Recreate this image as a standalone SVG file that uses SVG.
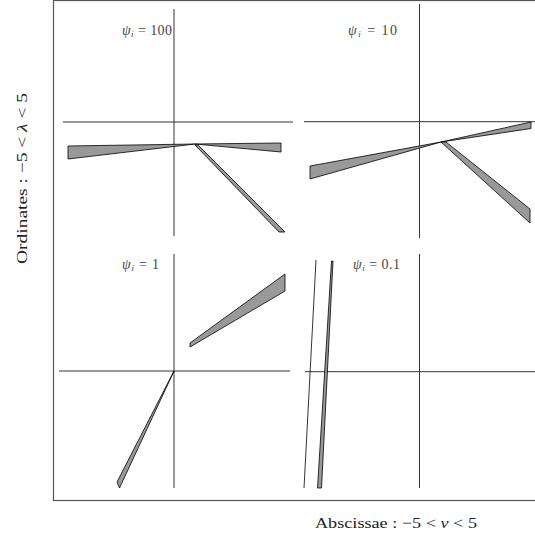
<svg xmlns="http://www.w3.org/2000/svg" width="535" height="539" viewBox="0 0 535 539">
<style>
.ax{stroke:#333;stroke-width:1;fill:none}
.sh{fill:#999;stroke:#000;stroke-width:0.8;stroke-linejoin:miter}
.ln{stroke:#000;stroke-width:0.8;fill:none}
.lb{font-family:'Liberation Serif','DejaVu Serif',serif;font-size:14px;fill:#444}
.al{font-family:'Liberation Serif','DejaVu Serif',serif;font-size:15px;fill:#222}
</style>
<rect x="53.5" y="0.5" width="484" height="500" fill="none" stroke="#555" stroke-width="1.2"/>
<g id="panel1">
<line class="ax" x1="174" y1="9" x2="174" y2="236"/>
<line class="ax" x1="63" y1="122" x2="293" y2="122"/>
<text class="lb" x="122" y="35" textLength="50" lengthAdjust="spacing"><tspan font-style="italic">ψ</tspan><tspan font-size="9" font-style="italic" dy="2">i</tspan><tspan dy="-2"> = 100</tspan></text>
<polygon class="sh" points="68,146 68,159 195,144"/>
<polygon class="sh" points="195,144 281,143 281,152"/>
<polygon class="sh" points="195,145 198,145 285,232 279,232"/>
</g>
<g id="panel2">
<line class="ax" x1="419.5" y1="4" x2="419.5" y2="238"/>
<line class="ax" x1="304" y1="121.7" x2="535" y2="121.7"/>
<text class="lb" x="348" y="35" textLength="49" lengthAdjust="spacing"><tspan font-style="italic">ψ</tspan><tspan font-size="9" font-style="italic" dy="2">i</tspan><tspan dy="-2"> = 10</tspan></text>
<polygon class="sh" points="310,166 310,179 441,142"/>
<polygon class="sh" points="441,142 531,122 531,128.5"/>
<polygon class="sh" points="441,142 446,142 530,209 530,223"/>
</g>
<g id="panel3">
<line class="ax" x1="174" y1="254" x2="174" y2="488"/>
<line class="ax" x1="59" y1="371" x2="290" y2="371"/>
<text class="lb" x="122" y="269" textLength="37" lengthAdjust="spacing"><tspan font-style="italic">ψ</tspan><tspan font-size="9" font-style="italic" dy="2">i</tspan><tspan dy="-2"> = 1</tspan></text>
<polygon class="sh" points="190,343 190,347 285,291 285,274"/>
<polygon class="sh" points="174,371 117,482 119.5,488"/>
</g>
<g id="panel4">
<line class="ax" x1="419.5" y1="254" x2="419.5" y2="488"/>
<line class="ax" x1="305" y1="371.7" x2="535" y2="371.7"/>
<text class="lb" x="353" y="269" textLength="47" lengthAdjust="spacing"><tspan font-style="italic">ψ</tspan><tspan font-size="9" font-style="italic" dy="2">i</tspan><tspan dy="-2"> = 0.1</tspan></text>
<line class="ln" x1="316" y1="260" x2="304" y2="488"/>
<polygon class="sh" points="331.5,261 333,261 321.5,488 317.5,488"/>
</g>
<g id="axis-labels">
<text class="al" x="315" y="528" textLength="162" lengthAdjust="spacingAndGlyphs">Abscissae :  −5 &lt; <tspan font-style="italic">ν</tspan> &lt; 5</text>
<text class="al" transform="translate(27,264) rotate(-90)" x="0" y="0" textLength="171" lengthAdjust="spacingAndGlyphs">Ordinates :  −5 &lt; <tspan font-style="italic">λ</tspan> &lt; 5</text>
</g>
</svg>
